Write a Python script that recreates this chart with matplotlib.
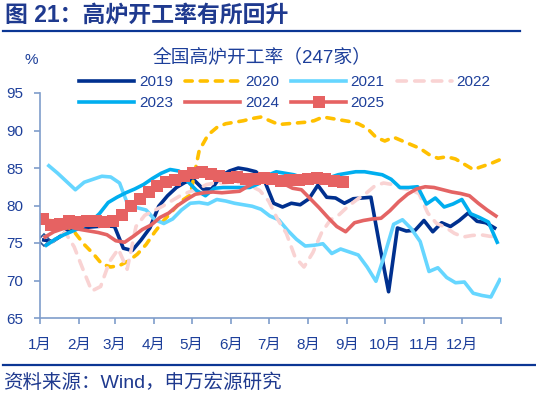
import matplotlib
matplotlib.use("Agg")
import matplotlib.pyplot as plt
from matplotlib.lines import Line2D
import pandas as pd

plt.rcParams["font.family"] = ["Liberation Sans", "Noto Sans CJK SC"]

# month tick positions (days since Jan 1) and labels
MONTH_STARTS = [0, 31, 59, 90, 120, 151, 181, 212, 243, 273, 304, 334, 365]
MONTH_LABELS = [f"{m}月" for m in range(1, 13)] + [""]

# weekly series: first observation date + values (%)
START_2019 = "2019-01-04"
VALS_2019 = [75.4, 75.2, 76.0, 76.9, 77.1, 77.1, 77.2, 77.3, 77.2, 74.3,
             74.0, 75.4, 77.0, 79.9, 81.3, 82.4, 83.1, 83.4, 82.2, 82.2,
             83.9, 84.6, 85.0, 84.8, 84.5, 83.2, 80.3, 79.8, 80.3, 80.1,
             80.9, 82.7, 81.1, 81.0, 80.3, 80.9, 81.0, 81.1, 74.6, 68.5,
             77.0, 76.6, 76.7, 78.0, 76.5, 77.7, 77.2, 78.0, 79.0, 77.9,
             77.7, 77.0]

START_2020 = "2020-01-08"
VALS_2020 = [78.0, 77.9, 77.3, 76.3, 74.8, 73.6, 72.2, 71.8, 72.0, 72.6,
             73.5, 74.8, 76.5, 78.0, 79.3, 80.6, 81.4, 87.3, 89.4, 90.4,
             90.9, 91.1, 91.3, 91.6, 91.8, 91.3, 90.8, 90.9, 91.0, 91.1,
             91.3, 91.8, 91.6, 91.4, 91.2, 90.9, 90.3, 89.1, 88.6, 89.1,
             88.6, 88.1, 87.6, 86.8, 86.3, 86.5, 86.2, 85.5, 84.8, 85.2,
             85.6, 86.1]

START_2021 = "2021-01-08"
VALS_2021 = [85.3, 84.3, 83.2, 82.1, 83.1, 83.5, 83.9, 83.8, 83.0, 79.9,
             79.7, 79.4, 78.1, 77.6, 78.2, 79.4, 80.3, 80.4, 80.2, 80.8,
             80.6, 80.3, 80.1, 79.9, 79.5, 78.6, 78.1, 76.7, 75.5, 74.6,
             74.7, 74.9, 73.6, 74.2, 73.8, 73.4, 71.8, 69.9, 73.5, 77.5,
             78.1, 76.9, 75.2, 71.2, 71.7, 70.4, 69.7, 69.8, 68.3, 68.0,
             67.8, 70.1]

START_2022 = "2022-01-07"
VALS_2022 = [74.8, 75.6, 76.4, 74.5, 71.5, 68.6, 69.2, 72.5, 74.2, 71.5,
             77.2, 78.7, 79.3, 79.9, 80.6, 81.3, 81.8, 82.2, 82.8, 83.0,
             83.0, 83.2, 83.0, 82.6, 82.0, 80.6, 78.2, 76.3, 73.1, 71.8,
             73.7, 76.4, 78.1, 78.8, 79.9, 80.8, 81.6, 82.6, 83.0, 82.8,
             82.3, 82.1, 81.6, 79.0, 77.6, 77.1, 76.3, 75.8, 76.0, 76.1,
             75.9, 75.8]

START_2023 = "2023-01-06"
VALS_2023 = [74.7, 75.5, 76.1, 76.6, 77.1, 77.8, 78.9, 80.4, 81.1, 81.7,
             82.2, 82.8, 83.6, 84.3, 84.8, 84.6, 83.2, 82.0, 81.3, 82.3,
             82.4, 82.4, 82.4, 82.4, 82.9, 84.0, 84.5, 84.3, 84.1, 83.7,
             83.9, 83.8, 83.7, 84.1, 84.3, 84.5, 84.5, 84.3, 84.1, 83.5,
             82.4, 82.4, 82.5, 80.2, 81.0, 79.8, 80.2, 80.8, 78.9, 78.4,
             77.8, 75.1]

START_2024 = "2024-01-05"
VALS_2024 = [75.8, 76.5, 76.9, 77.1, 76.8, 76.6, 76.4, 76.1, 75.3, 75.1,
             75.9, 76.8, 77.4, 78.4, 79.0, 80.0, 80.8, 81.5, 81.7, 81.8,
             81.7, 81.8, 81.9, 82.6, 83.2, 83.6, 83.3, 82.9, 82.3, 82.1,
             80.9, 79.7, 78.4, 77.2, 76.5, 77.7, 78.0, 78.2, 78.3, 79.3,
             80.5, 81.5, 82.2, 82.5, 82.4, 82.1, 81.8, 81.6, 81.3, 80.3,
             79.4, 78.6]

START_2025 = "2025-01-03"
VALS_2025 = [78.2, 77.4, 77.5, 78.0, 77.8, 78.0, 78.0, 77.8, 77.9, 78.8,
             80.0, 80.9, 81.8, 82.6, 83.1, 83.4, 84.0, 84.3, 84.5, 84.2,
             83.9, 83.7, 83.8, 83.5, 83.5, 83.7, 83.6, 83.3, 83.4, 83.4,
             83.6, 83.7, 83.5, 83.3, 83.1]

TEXT_BLUE = "#1D3F9A"
TITLE_BLUE = "#1F3A8F"
SPINE = "#7F9DCB"


def day_offsets(start: str, n: int) -> list[int]:
    dates = pd.date_range(start, periods=n, freq="7D")
    jan1 = pd.Timestamp(year=dates[0].year, month=1, day=1)
    return [(d - jan1).days for d in dates]


def main() -> None:
    fig = plt.figure(figsize=(5.36, 3.95), dpi=100)
    ax = fig.add_axes([40 / 536, 1 - 318 / 395, 461 / 536, 225 / 395])

    lw = 2.6
    series = [
        ("2019", START_2019, VALS_2019, dict(color="#00308F", lw=lw)),
        ("2020", START_2020, VALS_2020, dict(color="#FFC000", lw=lw, ls=(0, (2.0, 2.2)),
                                             dash_capstyle="round")),
        ("2021", START_2021, VALS_2021, dict(color="#66D6FF", lw=lw)),
        ("2022", START_2022, VALS_2022, dict(color="#F9D3D3", lw=lw, ls=(0, (2.6, 2.3)),
                                             dash_capstyle="round")),
        ("2023", START_2023, VALS_2023, dict(color="#00AEEF", lw=lw)),
        ("2024", START_2024, VALS_2024, dict(color="#E46464", lw=lw)),
        ("2025", START_2025, VALS_2025, dict(color="#E66262", lw=lw, marker="s",
                                             markersize=8.5, markeredgewidth=0)),
    ]

    handles = {}
    for label, start, vals, style in series:
        x = day_offsets(start, len(vals))
        (h,) = ax.plot(x, vals, label=label, **style)
        handles[label] = h
        if label == "2019":
            ax.plot(x[0], vals[0], marker="D", markersize=6, mfc="none",
                    mec="#2E5597", mew=1.2, ls="none")

    ax.set_xlim(0, 365)
    ax.set_ylim(65, 95)
    ax.set_yticks(range(65, 96, 5))
    ax.set_xticks(MONTH_STARTS)
    ax.set_xticklabels(MONTH_LABELS)

    for side in ("top", "right"):
        ax.spines[side].set_visible(False)
    for side in ("left", "bottom"):
        ax.spines[side].set_color(SPINE)
        ax.spines[side].set_linewidth(1.2)
    ax.tick_params(axis="both", direction="out", length=4, width=1.2, color=SPINE,
                   labelcolor=TEXT_BLUE, labelsize=11)
    ax.tick_params(axis="y", pad=8)
    ax.tick_params(axis="x", pad=10)

    order = ["2019", "2023", "2020", "2024", "2021", "2025", "2022"]
    fig.legend([handles[k] for k in order], order, ncol=4, frameon=False,
               loc="upper center", bbox_to_anchor=(285 / 536, 1 - 75 / 395),
               fontsize=11, labelcolor=TEXT_BLUE, handlelength=3.6,
               handletextpad=0.3, columnspacing=0.8, labelspacing=0.45,
               borderpad=0, borderaxespad=0)

    fig.text(262 / 536, 1 - 57 / 395, "全国高炉开工率（247家）", ha="center",
             va="center", fontsize=13.5, color=TEXT_BLUE)
    fig.text(31 / 536, 1 - 60 / 395, "%", ha="center", va="center",
             fontsize=11, color=TEXT_BLUE)

    fig.text(5 / 536, 1 - 15 / 395, "图 21：高炉开工率有所回升", ha="left",
             va="center", fontsize=16.5, fontweight="bold", color=TITLE_BLUE)
    fig.add_artist(Line2D([3 / 536, 520 / 536], [1 - 31 / 395] * 2,
                          transform=fig.transFigure, color="#0B3694", lw=1.6))
    fig.add_artist(Line2D([3 / 536, 535 / 536], [1 - 365 / 395] * 2,
                          transform=fig.transFigure, color="#0B3694", lw=1.6))
    fig.text(3 / 536, 1 - 383 / 395, "资料来源：Wind，申万宏源研究", ha="left",
             va="center", fontsize=14, color=TITLE_BLUE)

    fig.savefig("out.png", dpi=100)
    plt.close(fig)


if __name__ == "__main__":
    main()
